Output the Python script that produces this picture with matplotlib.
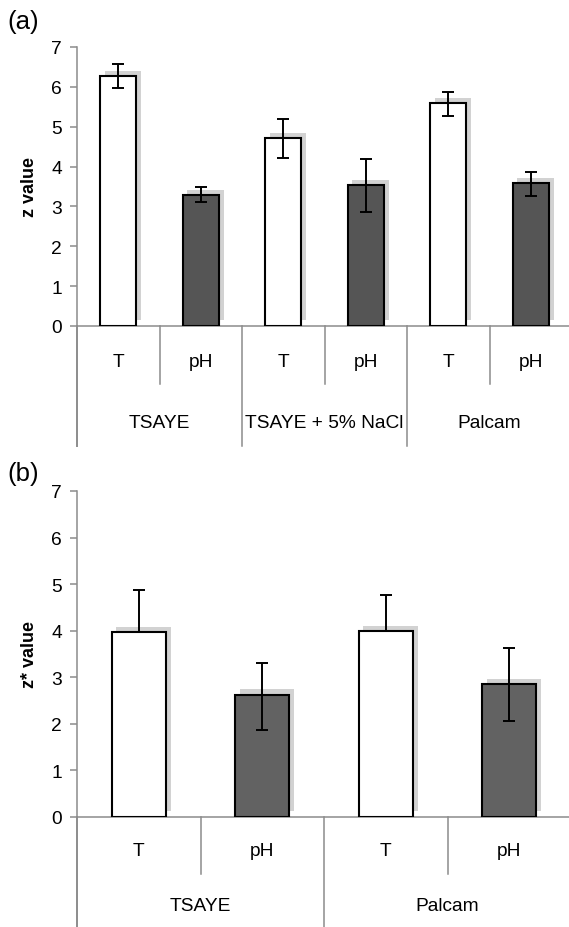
import matplotlib
matplotlib.use("Agg")
import matplotlib.pyplot as plt
import matplotlib.patheffects as pe
import numpy as np

plt.rcParams['font.family'] = ['Liberation Sans', 'DejaVu Sans']

# ---- data panel (a) ----
a_media = ["TSAYE", "TSAYE + 5% NaCl", "Palcam"]
a_factors = ["T", "pH", "T", "pH", "T", "pH"]
a_values = [6.27, 3.28, 4.71, 3.53, 5.59, 3.58]
a_err_low = [0.31, 0.18, 0.50, 0.67, 0.33, 0.33]
a_err_high = [0.31, 0.20, 0.48, 0.66, 0.28, 0.29]

# ---- data panel (b) ----
b_media = ["TSAYE", "Palcam"]
b_factors = ["T", "pH", "T", "pH"]
b_values = [3.97, 2.62, 3.99, 2.85]
b_err_low = [0.0, 0.75, 0.0, 0.79]
b_err_high = [0.90, 0.68, 0.77, 0.78]

yticks = [0, 1, 2, 3, 4, 5, 6, 7]

W, H = 569, 928
fig = plt.figure(figsize=(W / 100, H / 100), dpi=100)

AXC = '#8c8c8c'
FS = 13.8


def panel(rect, factors, media, values, elo, ehi, ylabel, tag, tag_y,
          inner_drop, group_drop, tick_off, group_off, dark):
    ax = fig.add_axes(rect)
    n = len(factors)
    x = np.arange(n)
    cols = [("white" if f == "T" else dark) for f in factors]
    bars = ax.bar(x, values, width=0.44, color=cols, edgecolor='black',
                  linewidth=1.5, zorder=3)
    for b in bars:
        b.set_path_effects([pe.SimplePatchShadow(offset=(3.5, 4),
                                                 shadow_rgbFace='#d2d2d2',
                                                 alpha=1.0),
                            pe.Normal()])
    ax.errorbar(x, values, yerr=[elo, ehi], fmt='none', ecolor='black',
                elinewidth=1.4, capsize=4.3, capthick=1.4, zorder=4)
    ax.set_xlim(-0.5, n - 0.5)
    ax.set_ylim(0, 7)
    ax.set_yticks(yticks)
    ax.set_xticks([])
    for s in ['top', 'right']:
        ax.spines[s].set_visible(False)
    for s in ['left', 'bottom']:
        ax.spines[s].set_color(AXC)
        ax.spines[s].set_linewidth(1.1)
    ax.tick_params(axis='y', direction='out', length=5, width=1.1,
                   color=AXC, labelsize=FS, pad=6)
    ax.set_ylabel(ylabel, fontsize=13, fontweight='bold', labelpad=9)

    hpx = rect[3] * H
    ppu = hpx / 7.0
    per = n // len(media)
    for i in range(1, n):
        drop = group_drop if i % per == 0 else inner_drop
        ax.plot([i - 0.5, i - 0.5], [0, -drop / ppu], color=AXC, lw=1.1,
                clip_on=False)
    ax.plot([-0.5, -0.5], [0, -group_drop / ppu], color=AXC, lw=1.4,
            clip_on=False)
    for i, f in enumerate(factors):
        ax.text(i, -tick_off / ppu, f, ha='center', va='center', fontsize=FS)
    for g, m in enumerate(media):
        ax.text(g * per + (per - 1) / 2, -group_off / ppu, m, ha='center',
                va='center', fontsize=FS)
    fig.text(7 / W, 1 - tag_y / H, tag, ha='left', va='center', fontsize=18.5)
    return ax


panel([77 / W, 1 - 327 / H, 495 / W, (327 - 48) / H], a_factors, a_media,
      a_values, a_err_low, a_err_high, "z value", "(a)", 22,
      58, 120, 36, 97, '#555555')
panel([77 / W, 1 - 818 / H, 494 / W, (818 - 492) / H], b_factors, b_media,
      b_values, b_err_low, b_err_high, "z* value", "(b)", 474,
      57, 115, 34, 89, '#626262')

fig.savefig("out.png", dpi=100)
